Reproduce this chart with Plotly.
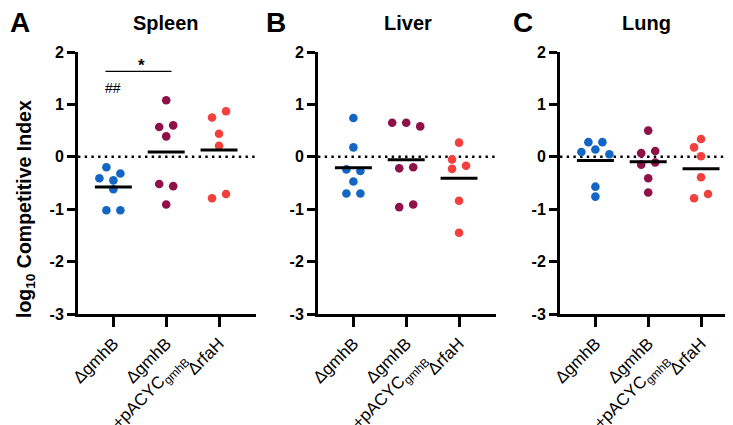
import numpy as np
import plotly.graph_objects as go

# ---------------- data ----------------
categories = ["ΔgmhB", "ΔgmhB +pACYC gmhB", "ΔrfaH"]
tick_labels = ["ΔgmhB",
               "ΔgmhB<br>+pACYC<sub>gmhB</sub>",
               "ΔrfaH"]
y_tick_vals = [2, 1, 0, -1, -2, -3]
y_tick_text = ["2", "1", "0", "-1", "-2", "-3"]
panel_titles = ["Spleen", "Liver", "Lung"]
panel_letters = ["A", "B", "C"]

spleen_gmhB = [-0.20, -0.32, -0.41, -0.45, -0.62, -1.02, -1.02]
spleen_comp = [1.08, 0.57, 0.60, 0.39, -0.52, -0.56, -0.91]
spleen_rfaH = [0.75, 0.87, 0.44, 0.21, -0.79, -0.71]

liver_gmhB = [0.74, 0.18, -0.24, -0.27, -0.47, -0.70, -0.70]
liver_comp = [0.65, 0.65, 0.58, -0.22, -0.20, -0.96, -0.91]
liver_rfaH = [0.27, -0.05, -0.23, -0.17, -0.84, -1.45]

lung_gmhB = [0.28, 0.28, 0.09, 0.14, 0.05, -0.57, -0.76]
lung_comp = [0.50, 0.07, 0.11, -0.15, -0.11, -0.41, -0.68]
lung_rfaH = [0.34, 0.18, 0.01, -0.39, -0.79, -0.71]

panels = [
    [spleen_gmhB, spleen_comp, spleen_rfaH],
    [liver_gmhB, liver_comp, liver_rfaH],
    [lung_gmhB, lung_comp, lung_rfaH],
]
colors = ["#1466c4", "#8e1148", "#f2403f"]

# ---------------- layout geometry ----------------
W, H = 733, 425
x_range = [-0.67, 2.7]
y_range = [-3, 2]
panel_px = [(70, 248), (310, 488), (552, 730)]
y_top_px, y_bot_px = 44, 306
x_scale = (panel_px[0][1] - panel_px[0][0]) / (x_range[1] - x_range[0])
y_scale = (y_bot_px - y_top_px) / (y_range[1] - y_range[0])

def px_x(p):
    return p / W

def px_y(p):
    return 1 - p / H

# ---------------- beeswarm layout (pixel space) ----------------
ROW_H = 7.0      # px: points closer than this vertically share a row
STEP = 14.0      # px: horizontal spacing within a row
COLL = 8.5       # px: minimum distance between marker centres

def swarm(values):
    vals = np.asarray(values, dtype=float)
    ypx = -vals * y_scale
    order = sorted(range(len(vals)), key=lambda i: (ypx[i], i))
    rows, cur = [], []
    for i in order:
        if cur and ypx[i] - ypx[cur[0]] >= ROW_H:
            rows.append(cur)
            cur = []
        cur.append(i)
    if cur:
        rows.append(cur)
    off = np.zeros(len(vals))
    placed = []
    for row in rows:
        row = sorted(row)
        n = len(row)
        base = [(k - (n - 1) / 2) * STEP for k in range(n)]
        for shift in [0, -7, 7, -14, 14, -21, 21]:
            ok = True
            for k, i in enumerate(row):
                for j in placed:
                    d = np.hypot(base[k] + shift - off[j], ypx[i] - ypx[j])
                    if d < COLL:
                        ok = False
                        break
                if not ok:
                    break
            if ok:
                break
        for k, i in enumerate(row):
            off[i] = base[k] + shift
        placed.extend(row)
    return off / x_scale

fig = go.Figure()
FONT = "Liberation Sans, Arial, Helvetica, sans-serif"

for p, groups in enumerate(panels):
    ax = "" if p == 0 else str(p + 1)
    xref, yref = "x" + ax, "y" + ax
    # zero reference line
    fig.add_shape(type="line", xref=xref + " domain", yref=yref,
                  x0=0, x1=1, y0=0, y1=0, layer="below",
                  line=dict(color="black", width=2.4, dash="2.4px,4.3px"))
    for c, vals in enumerate(groups):
        dx = swarm(vals)
        fig.add_trace(go.Scatter(
            x=c + dx, y=vals, mode="markers", xaxis=xref, yaxis=yref,
            marker=dict(size=8.6, color=colors[c], line=dict(width=0)),
            showlegend=False, hoverinfo="skip"))
    for c, vals in enumerate(groups):
        m = float(np.mean(vals))
        fig.add_trace(go.Scatter(
            x=[c - 0.35, c + 0.35], y=[m, m], mode="lines",
            xaxis=xref, yaxis=yref, line=dict(color="black", width=3),
            showlegend=False, hoverinfo="skip"))

    x0, x1 = panel_px[p]
    common_x = dict(domain=[px_x(x0), px_x(x1)], range=x_range,
                    tickvals=[0, 1, 2], ticktext=tick_labels, tickangle=-45,
                    ticks="outside", ticklen=10, tickwidth=3, tickcolor="black",
                    showline=True, linewidth=3, linecolor="black",
                    showgrid=False, zeroline=False, automargin=False,
                    anchor=yref, fixedrange=True,
                    tickfont=dict(family=FONT, size=17, color="black"))
    common_y = dict(domain=[px_y(y_bot_px), px_y(y_top_px)], range=y_range,
                    tickvals=y_tick_vals, ticktext=y_tick_text,
                    ticks="outside", ticklen=8, tickwidth=3, tickcolor="black",
                    showline=True, linewidth=3, linecolor="black",
                    showgrid=False, zeroline=False, automargin=False,
                    anchor=xref, fixedrange=True,
                    tickfont=dict(family=FONT, size=16, color="black", weight="bold"))
    fig.update_layout(**{"xaxis" + ax: common_x, "yaxis" + ax: common_y})

annotations = []
title_cx = [158, 400, 638]
letter_cx = [12, 268, 515]
for p in range(3):
    annotations.append(dict(text=panel_titles[p], x=px_x(title_cx[p]), y=px_y(15),
                            xref="paper", yref="paper", showarrow=False,
                            xanchor="center", yanchor="middle",
                            font=dict(family=FONT, size=20, color="black", weight="bold")))
    annotations.append(dict(text=panel_letters[p], x=px_x(letter_cx[p]), y=px_y(14),
                            xref="paper", yref="paper", showarrow=False,
                            xanchor="center", yanchor="middle",
                            font=dict(family=FONT, size=28, color="black", weight="bold")))

annotations.append(dict(text="log<sub>10</sub> Competitive Index", x=px_x(18), y=px_y(201),
                        xref="paper", yref="paper", showarrow=False, textangle=-90,
                        xanchor="center", yanchor="middle",
                        font=dict(family=FONT, size=19.5, color="black", weight="bold")))

# significance marks (Spleen panel)
fig.add_shape(type="line", xref="x", yref="y", x0=-0.15, x1=1.10, y0=1.63, y1=1.63,
              line=dict(color="black", width=1.3))
annotations.append(dict(text="*", x=0.53, y=1.74, xref="x", yref="y", showarrow=False,
                        xanchor="center", yanchor="middle",
                        font=dict(family=FONT, size=17, color="black", weight="bold")))
annotations.append(dict(text="##", x=0.0, y=1.32, xref="x", yref="y", showarrow=False,
                        xanchor="center", yanchor="middle",
                        font=dict(family=FONT, size=14, color="black")))

fig.update_layout(width=W, height=H, margin=dict(l=0, r=0, t=0, b=0),
                  paper_bgcolor="white", plot_bgcolor="white",
                  annotations=annotations, showlegend=False)

fig.write_html("out.html")
